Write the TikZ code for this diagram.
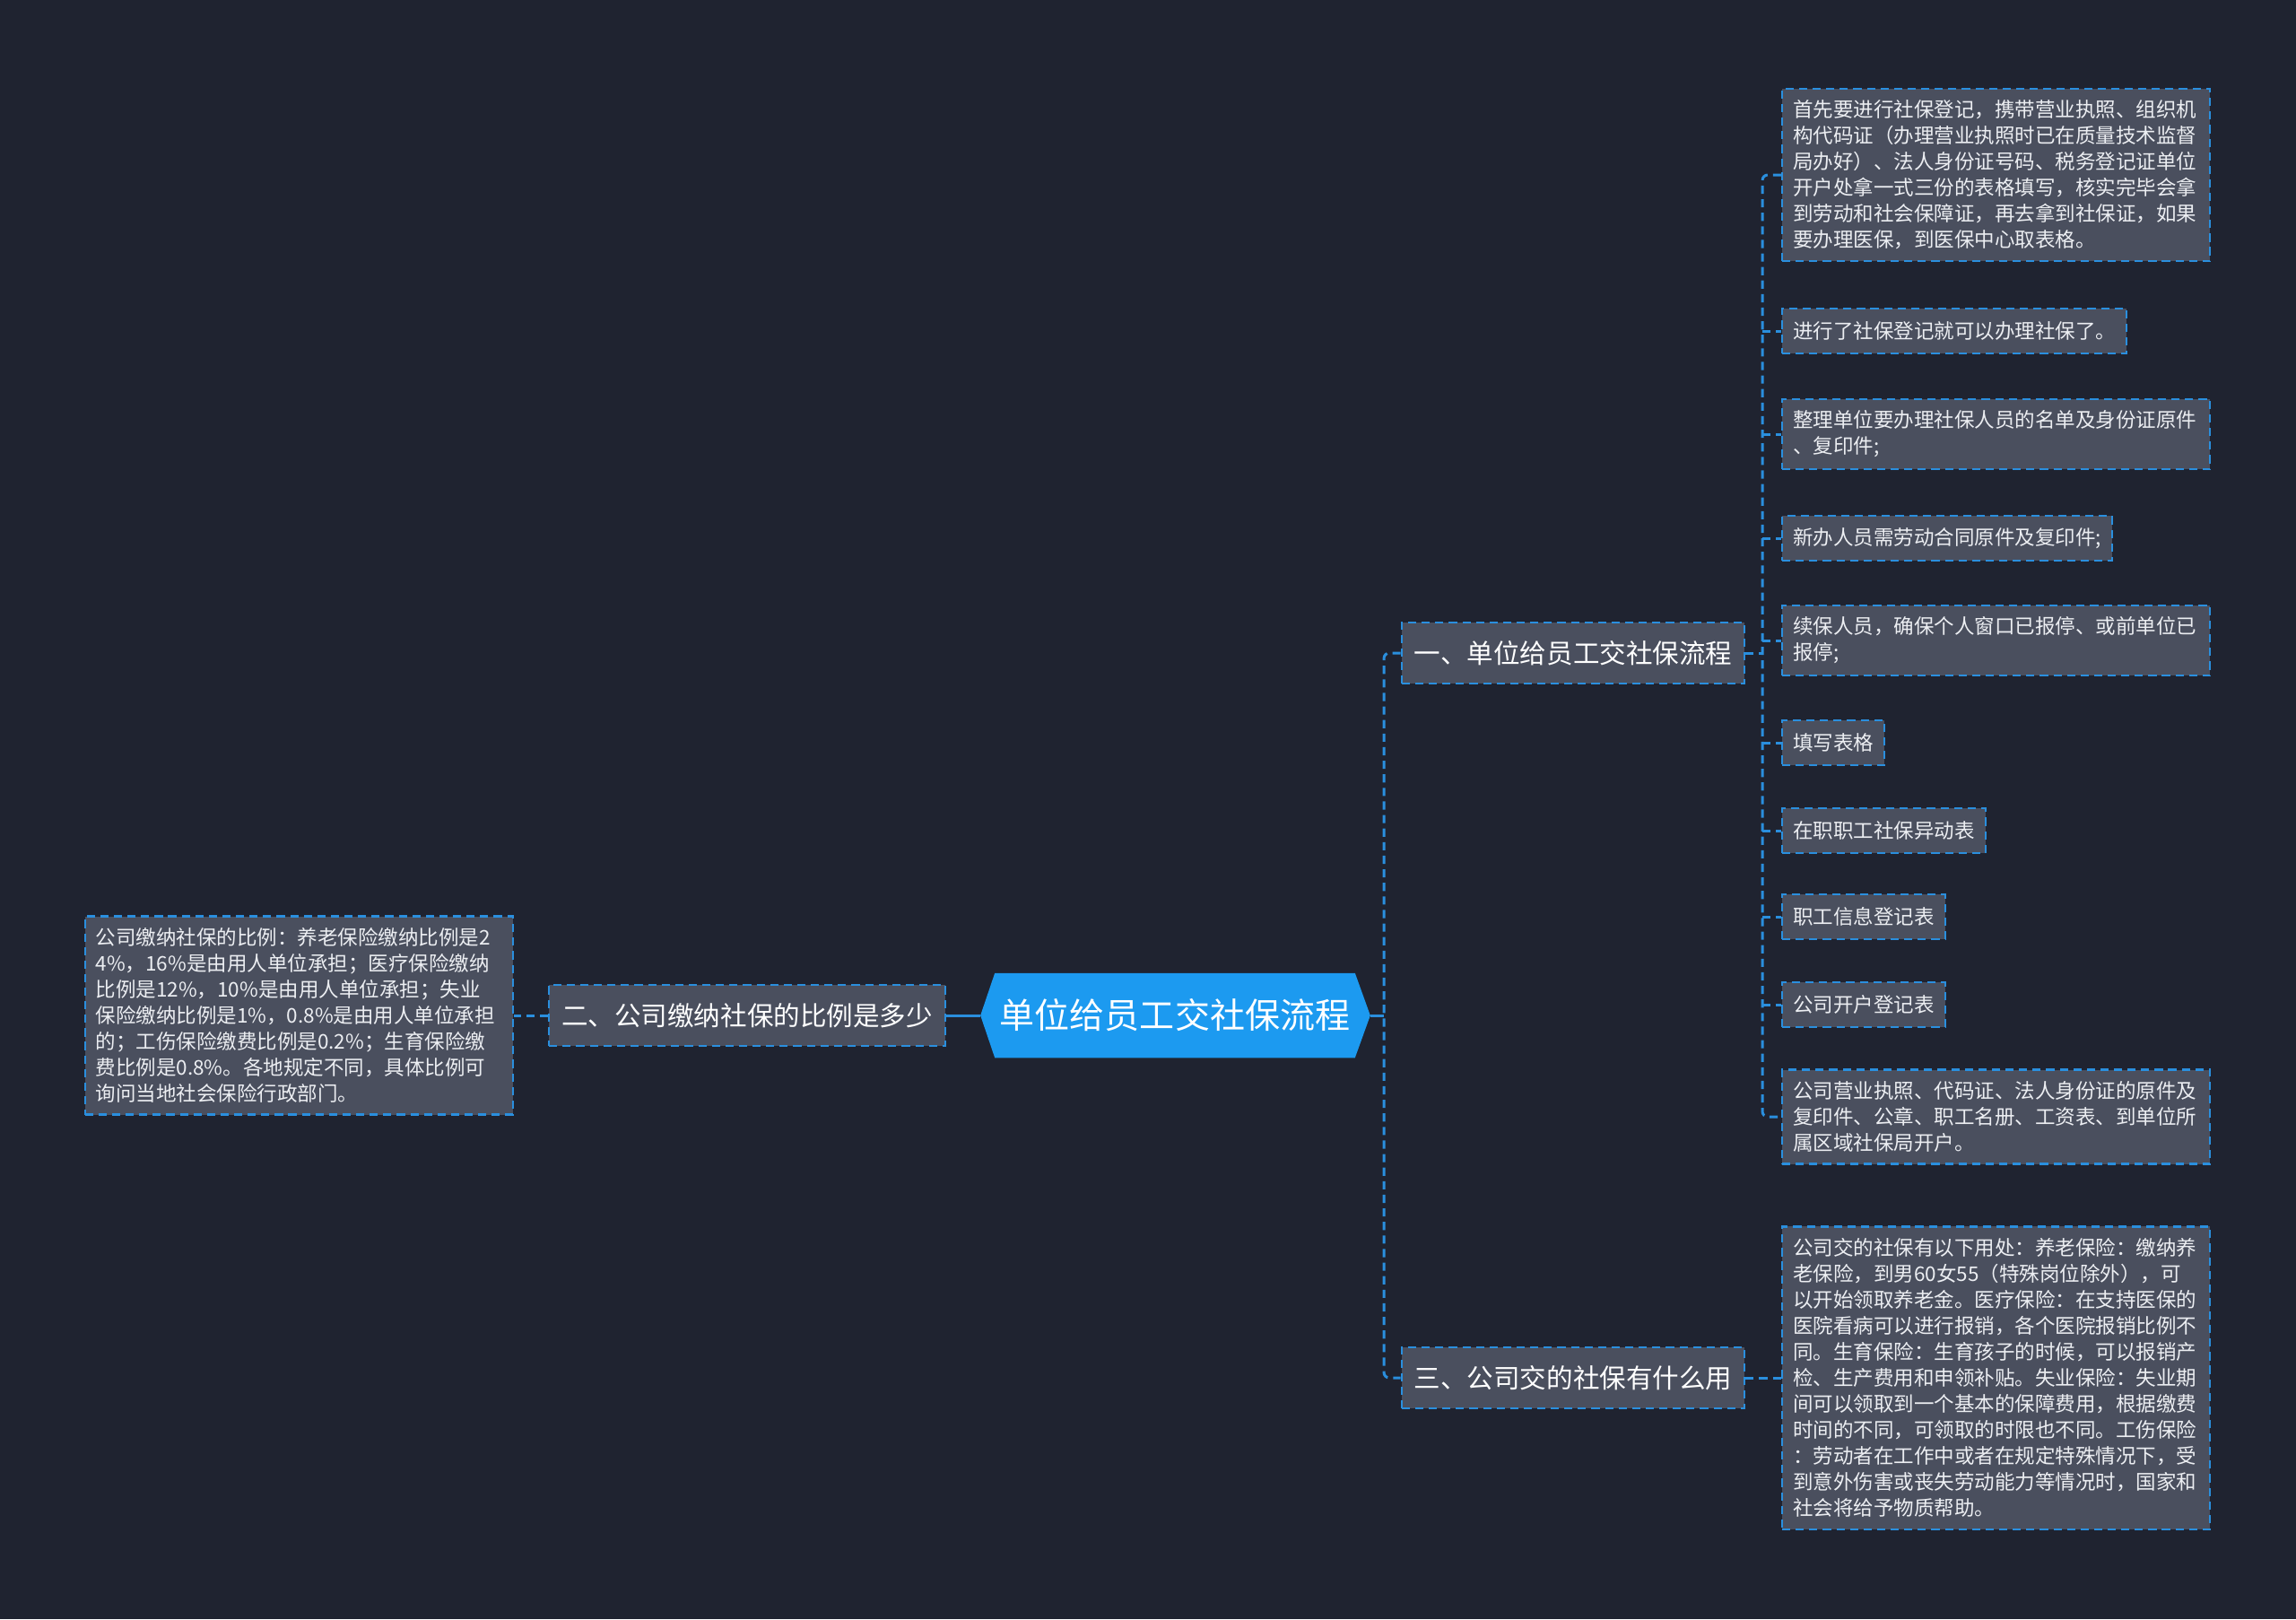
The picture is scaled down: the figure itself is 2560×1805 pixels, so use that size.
\documentclass[tikz,border=0pt]{standalone}
\usepackage{fontspec}
\setmainfont{Noto Sans CJK SC}
\usepackage{xcolor}
\usetikzlibrary{positioning,calc,backgrounds}
\definecolor{bgdark}{RGB}{31,35,48}
\definecolor{boxgray}{RGB}{74,79,94}
\definecolor{lineblue}{RGB}{42,143,222}
\definecolor{rootblue}{RGB}{28,154,240}
\definecolor{leaftext}{RGB}{236,238,242}

\begin{document}
\begin{tikzpicture}[x=0.01cm,y=-0.01cm,
    rootbox/.style={inner sep=0pt,minimum width=4cm,minimum height=0.93cm,text=white,
        font=\fontsize{11.1pt}{13pt}\selectfont},
    branchbox/.style={draw=lineblue,fill=boxgray,dash pattern=on 2.6pt off 1.7pt,line width=0.6pt,
        text=white,inner xsep=0.14cm,inner ysep=0pt,minimum height=0.68cm,
        font=\fontsize{8.4pt}{10pt}\selectfont},
    leafbox/.style={draw=lineblue,fill=boxgray,dash pattern=on 2.6pt off 1.7pt,line width=0.6pt,
        text=leaftext,inner xsep=0.12cm,inner ysep=0.13cm,minimum height=0.5cm,align=left,anchor=west,
        font=\fontsize{6.4pt}{8.25pt}\selectfont},
    wideleaf/.style={leafbox,text width=4.53cm},
    link/.style={lineblue,line width=0.85pt,dash pattern=on 2.6pt off 1.7pt,rounded corners=0.06cm},
    trunk/.style={lineblue,line width=0.85pt}]

    \useasboundingbox (0,0) rectangle (2560,1805);

    % Root
    \node[rootbox] (root) at (1310,1132) {单位给员工交社保流程};
    \coordinate (rtip) at ([xshift=0.17cm]root.east);
    \coordinate (ltip) at ([xshift=-0.16cm]root.west);

    % Branches
    \node[branchbox] (b1) at (1754,728) {一、单位给员工交社保流程};
    \node[branchbox] (b2) at (833,1132) {二、公司缴纳社保的比例是多少};
    \node[branchbox] (b3) at (1754,1536) {三、公司交的社保有什么用};

    % Leaves of branch one
    \node[wideleaf] (f1) at (1986,195) {首先要进行社保登记，携带营业执照、组织机\\
        构代码证（办理营业执照时已在质量技术监督\\
        局办好）、法人身份证号码、税务登记证单位\\
        开户处拿一式三份的表格填写，核实完毕会拿\\
        到劳动和社会保障证，再去拿到社保证，如果\\
        要办理医保，到医保中心取表格。};
    \node[leafbox] (f2) at (1986,369) {进行了社保登记就可以办理社保了。};
    \node[wideleaf] (f3) at (1986,484) {整理单位要办理社保人员的名单及身份证原件\\
        、复印件;};
    \node[leafbox] (f4) at (1986,600) {新办人员需劳动合同原件及复印件;};
    \node[wideleaf] (f5) at (1986,714) {续保人员，确保个人窗口已报停、或前单位已\\
        报停;};
    \node[leafbox] (f6) at (1986,828) {填写表格};
    \node[leafbox] (f7) at (1986,926) {在职职工社保异动表};
    \node[leafbox] (f8) at (1986,1022) {职工信息登记表};
    \node[leafbox] (f9) at (1986,1120) {公司开户登记表};
    \node[wideleaf] (f10) at (1986,1245) {公司营业执照、代码证、法人身份证的原件及\\
        复印件、公章、职工名册、工资表、到单位所\\
        属区域社保局开户。};

    % Leaf of branch two
    \node[wideleaf,anchor=east] (r1) at (573,1132) {公司缴纳社保的比例：养老保险缴纳比例是2\\
        4\%，16\%是由用人单位承担；医疗保险缴纳\\
        比例是12\%，10\%是由用人单位承担；失业\\
        保险缴纳比例是1\%，0.8\%是由用人单位承担\\
        的；工伤保险缴费比例是0.2\%；生育保险缴\\
        费比例是0.8\%。各地规定不同，具体比例可\\
        询问当地社会保险行政部门。};

    % Leaf of branch three
    \node[wideleaf] (u1) at (1986,1536) {公司交的社保有以下用处：养老保险：缴纳养\\
        老保险，到男60女55（特殊岗位除外），可\\
        以开始领取养老金。医疗保险：在支持医保的\\
        医院看病可以进行报销，各个医院报销比例不\\
        同。生育保险：生育孩子的时候，可以报销产\\
        检、生产费用和申领补贴。失业保险：失业期\\
        间可以领取到一个基本的保障费用，根据缴费\\
        时间的不同，可领取的时限也不同。工伤保险\\
        ：劳动者在工作中或者在规定特殊情况下，受\\
        到意外伤害或丧失劳动能力等情况时，国家和\\
        社会将给予物质帮助。};

    % Background and root shape
    \begin{scope}[on background layer]
        \fill[bgdark] (0,0) rectangle (2560,1805);
        \fill[rootblue] (root.north west) -- (root.north east) -- (rtip) -- (root.south east)
            -- (root.south west) -- (ltip) -- cycle;
    \end{scope}

    % Connectors
    \coordinate (sp) at (1543,1132);
    \coordinate (s1) at (1965,728);
    \draw[trunk] (rtip) -- (sp);
    \draw[link] (b1.west) -| (sp) |- (b3.west);
    \draw[trunk] (ltip) -- (b2.east);
    \draw[link] (b2.west) -- (r1.east);
    \draw[link] (b1.east) -- (s1);
    \draw[link] (f1.west) -| (s1) |- (f10.west);
    \foreach \k in {2,...,9} {
        \draw[link] (s1 |- f\k.west) -- (f\k.west);
    }
    \draw[link] (b3.east) -- (u1.west);

\end{tikzpicture}
\end{document}
